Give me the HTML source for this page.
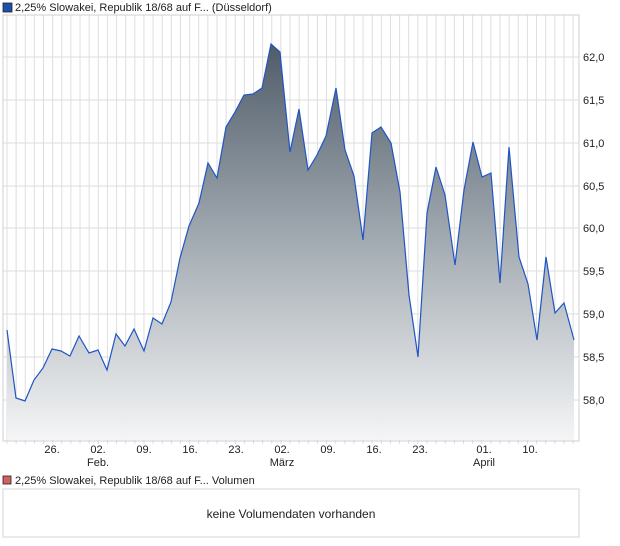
<!DOCTYPE html>
<html><head><meta charset="utf-8"><style>
body{margin:0;background:#fff;}
svg{display:block;font-family:"Liberation Sans",sans-serif;}
</style></head><body>
<svg width="620" height="546" viewBox="0 0 620 546" xmlns="http://www.w3.org/2000/svg">
<defs>
<linearGradient id="g" gradientUnits="userSpaceOnUse" x1="0" y1="44" x2="0" y2="440">
<stop offset="0" stop-color="#4f5c69"/>
<stop offset="0.5" stop-color="#a3abb2"/>
<stop offset="1" stop-color="#f4f5f6"/>
</linearGradient>
</defs>
<rect x="3" y="3" width="9" height="9" fill="#1f4fa8" stroke="#222" stroke-width="0.8"/>
<text x="15" y="11" font-size="11" fill="#222">2,25% Slowakei, Republik 18/68 auf F... (Düsseldorf)</text>
<g id="grid" stroke="#dedede" stroke-width="1"></g>
<g stroke="#dedede">
<line x1="3" y1="57" x2="579" y2="57"/><line x1="3" y1="100" x2="579" y2="100"/><line x1="3" y1="143" x2="579" y2="143"/><line x1="3" y1="186" x2="579" y2="186"/><line x1="3" y1="228" x2="579" y2="228"/><line x1="3" y1="271" x2="579" y2="271"/><line x1="3" y1="314" x2="579" y2="314"/><line x1="3" y1="357" x2="579" y2="357"/><line x1="3" y1="400" x2="579" y2="400"/>
</g>
<polygon fill="url(#g)" points="7,440 7,330 16,398 25,401 34,380 43,368 52,349 61,351 70,356 79,336 89,353 98,350 107,370 116,334 125,346 134,329 144,351 153,318 162,324 171,302 180,258 189,226 199,203 208,163 217,178 226,127 235,112 244,95 253,94 262,88 271,44 280,52 290,152 299,109 308,170 317,155 326,136 336,88 345,150 354,176 363,240 372,133 381,127 391,143 400,192 409,295 418,357 427,213 436,167 445,195 455,265 464,190 473,142 482,177 491,173 500,283 509,147 519,257 528,284 537,340 546,257 555,313 564,303 574,340 574,440"/>
<polyline fill="none" stroke="#1f55c4" stroke-width="1.2" points="7,330 16,398 25,401 34,380 43,368 52,349 61,351 70,356 79,336 89,353 98,350 107,370 116,334 125,346 134,329 144,351 153,318 162,324 171,302 180,258 189,226 199,203 208,163 217,178 226,127 235,112 244,95 253,94 262,88 271,44 280,52 290,152 299,109 308,170 317,155 326,136 336,88 345,150 354,176 363,240 372,133 381,127 391,143 400,192 409,295 418,357 427,213 436,167 445,195 455,265 464,190 473,142 482,177 491,173 500,283 509,147 519,257 528,284 537,340 546,257 555,313 564,303 574,340"/>
<rect x="3" y="15" width="576" height="426" fill="none" stroke="#cfcfcf"/>
<g font-size="11" fill="#222">
<text x="583" y="61">62,0</text><text x="583" y="104">61,5</text><text x="583" y="147">61,0</text><text x="583" y="190">60,5</text><text x="583" y="232">60,0</text><text x="583" y="275">59,5</text><text x="583" y="318">59,0</text><text x="583" y="361">58,5</text><text x="583" y="404">58,0</text>
</g>
<g font-size="11" fill="#222" text-anchor="middle">
<text x="52" y="453">26.</text><text x="98" y="453">02.</text><text x="144" y="453">09.</text><text x="190" y="453">16.</text><text x="236" y="453">23.</text><text x="282" y="453">02.</text><text x="328" y="453">09.</text><text x="374" y="453">16.</text><text x="420" y="453">23.</text><text x="484" y="453">01.</text><text x="530" y="453">10.</text>
<text x="98" y="466">Feb.</text><text x="282" y="466">März</text><text x="484" y="466">April</text>
</g>
<rect x="3" y="476" width="8" height="8" fill="#d46060" stroke="#222" stroke-width="0.8"/>
<text x="15" y="484" font-size="11" fill="#222">2,25% Slowakei, Republik 18/68 auf F... Volumen</text>
<rect x="3" y="489" width="576" height="48" fill="none" stroke="#d6d6d6"/>
<text x="291" y="518" font-size="12" fill="#222" text-anchor="middle">keine Volumendaten vorhanden</text>
</svg>
<script>
var g=document.getElementById('grid');
for(var x=7;x<579;x+=9.13){var l=document.createElementNS('http://www.w3.org/2000/svg','line');l.setAttribute('x1',x);l.setAttribute('x2',x);l.setAttribute('y1',15);l.setAttribute('y2',444);g.appendChild(l);}
</script>
</body></html>
